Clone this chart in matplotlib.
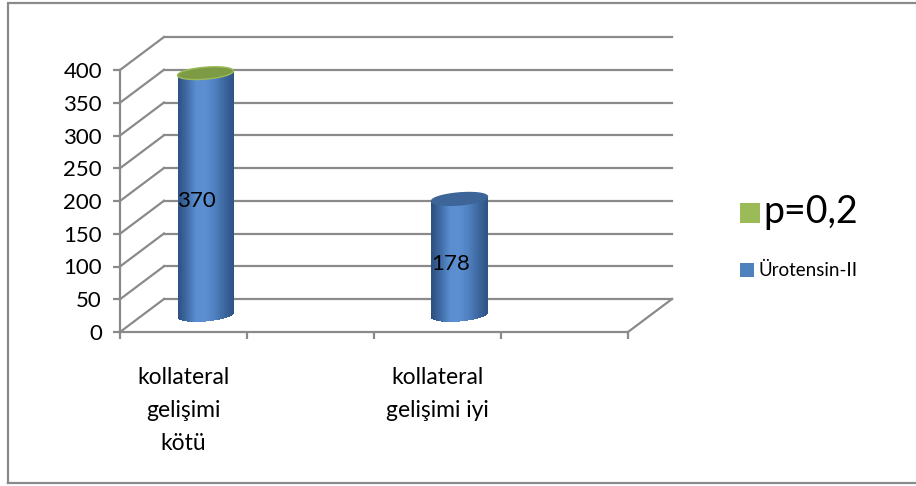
import numpy as np
import matplotlib
matplotlib.use("Agg")
import matplotlib.pyplot as plt
from matplotlib.patches import Rectangle
from matplotlib.colors import LinearSegmentedColormap

plt.rcParams['font.family'] = ['Lato', 'DejaVu Sans']

# ---- data ----
categories = ["kollateral\ngelişimi\nkötü", "kollateral\ngelişimi iyi"]
urotensin = [370, 178]
p_series = [0, np.nan]          # stacked on top of the first cylinder only
series_names = ["p=0,2", "Ürotensin-II"]
y_ticks = [0, 50, 100, 150, 200, 250, 300, 350, 400]

GRID = "#8a8a8a"
BLUE = "#4f81bd"
GREEN = "#9bbb59"
FS = 16

W, H = 916, 486
fig = plt.figure(figsize=(W / 100, H / 100), dpi=100)

# outer frame of the chart area
frame = fig.add_axes([0, 0, 1, 1])
frame.set_xlim(0, W)
frame.set_ylim(H, 0)
frame.axis("off")
frame.plot([8, 8, W + 5], [483, 3, 3], color=GRID, lw=1.6, solid_joinstyle="miter")
frame.plot([8, W + 5], [483, 483], color=GRID, lw=1.6)

# front plane of the 3-D plot box
ax = fig.add_axes([120 / W, (H - 332) / H, 508 / W, 262 / H])
n_slots = 2 * len(categories)
ax.set_xlim(0, n_slots)
ax.set_ylim(0, 400)
ax.patch.set_visible(False)
for s in ("top", "right"):
    ax.spines[s].set_visible(False)
for s in ("left", "bottom"):
    ax.spines[s].set_color(GRID)
    ax.spines[s].set_linewidth(1.6)
ax.set_yticks(y_ticks)
ax.set_yticklabels([str(t) for t in y_ticks], fontsize=FS)
ax.set_xticks(np.arange(n_slots + 1))
ax.set_xticklabels([])
ax.tick_params(axis="both", color=GRID, width=1.6, length=5)
ax.tick_params(axis="y", pad=8)

# depth offset of the back wall, in data units (44 px right, 33 px up)
inv = ax.transData.inverted()
origin = ax.transData.transform((0, 0))
DX, DY = inv.transform(origin + np.array([44, 33]))
px_x, px_y = ax.transData.transform((1, 1)) - origin

# back wall gridlines and side-wall diagonals
for t in y_ticks:
    ax.plot([DX, n_slots + DX], [t + DY, t + DY], color=GRID, lw=1.6, clip_on=False, zorder=1)
    ax.plot([0, DX], [t, t + DY], color=GRID, lw=1.6, clip_on=False, zorder=1)
# floor right edge
ax.plot([n_slots, n_slots + DX], [0, DY], color=GRID, lw=1.6, clip_on=False, zorder=1)

body_cmap = LinearSegmentedColormap.from_list(
    "body", ["#2c4f7e", "#3f6ca6", "#5a8ed0", "#5b8fd2", "#4f80bf", "#3e68a0", "#2f5484"])

cyl_w = 56 / px_x          # cylinder diameter
cap_b = 6 / px_y           # half height of the elliptical caps
skew_k = 2.2 / px_y        # slight tilt of the caps (right side higher)


def cylinder(xc, v0, v1, top_face, top_edge):
    n = 90
    edges = np.linspace(-1, 1, n + 1)
    for u0, u1 in zip(edges[:-1], edges[1:]):
        um = 0.5 * (u0 + u1)
        tilt = skew_k * um
        yb = v0 - cap_b * np.sqrt(max(0.0, 1 - um ** 2)) + tilt
        ax.add_patch(Rectangle((xc + u0 * cyl_w / 2, yb), cyl_w / n * 1.05, v1 + tilt - yb,
                               facecolor=body_cmap((um + 1) / 2), edgecolor="none",
                               clip_on=False, zorder=3))
    # top cap as a polygon so it can follow the same tilt
    th = np.linspace(0, 2 * np.pi, 200)
    ux = np.cos(th)
    xs = xc + ux * cyl_w / 2
    ys = v1 + cap_b * np.sin(th) + skew_k * ux
    ax.fill(xs, ys, facecolor=top_face, edgecolor=top_edge, lw=1.0, clip_on=False, zorder=4)


for i, (cat, val, pv) in enumerate(zip(categories, urotensin, p_series)):
    slot = 2 * i + 0.5
    xc = slot + 0.5 * DX
    base = 0.5 * DY
    if np.isnan(pv):
        cylinder(xc, base, base + val, "#3d6598", "#3d6598")
    else:
        cylinder(xc, base, base + val + pv, "#7d9a44", GREEN)
    # value label
    ax.text(slot + 0.3 * DX, 0.3 * DY + val / 2, str(val), fontsize=FS,
            ha="center", va="center", zorder=6, clip_on=False)
    # category label
    ax.annotate(cat, xy=(slot, 0), xytext=(0, -35), textcoords="offset pixels",
                ha="center", va="top", fontsize=16.5, linespacing=1.7,
                annotation_clip=False)

# legend
fig.patches.append(Rectangle((740, 203), 20, 20, transform=frame.transData,
                             facecolor=GREEN, edgecolor="none"))
frame.text(763, 212, series_names[0], fontsize=27, va="center", ha="left")
fig.patches.append(Rectangle((740, 263), 14, 14, transform=frame.transData,
                             facecolor=BLUE, edgecolor="none"))
frame.text(758, 270, series_names[1], fontsize=13.5, va="center", ha="left")

fig.savefig("out.png", dpi=100)
